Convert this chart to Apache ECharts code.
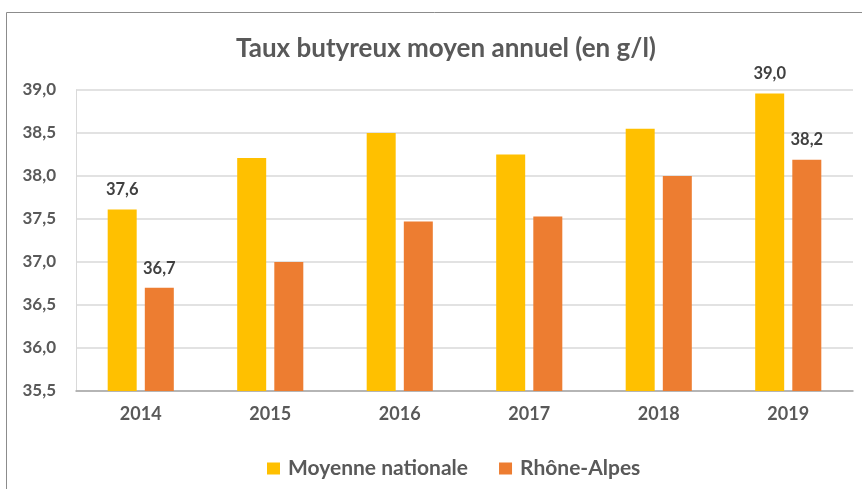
<!DOCTYPE html>
<html><head><meta charset="utf-8">
<script src="https://cdn.jsdelivr.net/npm/echarts@6/dist/echarts.min.js"></script>
<style>html,body{margin:0;padding:0;background:#fff}#c{width:862px;height:489px}</style>
</head><body><div id="c"></div>
<script>
const categories = ['2014','2015','2016','2017','2018','2019'];
const nationale = [37.61, 38.21, 38.50, 38.25, 38.55, 38.96];
const rhoneAlpes = [36.70, 37.00, 37.47, 37.53, 38.00, 38.19];
const labelledIdx = [0, 5];
const yTicks = {min: 35.5, max: 39.0, interval: 0.5};

const fmt = v => v.toFixed(1).replace('.', ',');
const font = 'Lato, "Open Sans", sans-serif';
const mkLabel = {
  show: true, position: 'top', distance: 11,
  fontFamily: font, fontWeight: 'bold', fontSize: 16.5, color: '#404040',
  formatter: p => labelledIdx.includes(p.dataIndex) ? fmt(p.value) : ''
};
const chart = echarts.init(document.getElementById('c'));
chart.setOption({
  animation: false,
  graphic: [{type:'rect', shape:{x:6.5,y:12.5,width:870,height:500}, style:{fill:'none', stroke:'#8c8c8c', lineWidth:1}, silent:true}],
  title: {text: 'Taux butyreux moyen annuel (en g/l)', left: 231, top: 31,
    textStyle: {fontFamily: font, fontWeight: 'bold', fontSize: 26, color: '#595959'}},
  grid: {left: 76, right: 9, top: 90, bottom: 98, containLabel: false},
  legend: {top: 453, left: 262, itemWidth: 13, itemHeight: 12, itemGap: 31,
    icon: 'rect',
    textStyle: {fontFamily: font, fontWeight: 'bold', fontSize: 21, color: '#595959', padding: [0,0,0,3]}},
  xAxis: {type: 'category', data: categories,
    axisLine: {lineStyle: {color: '#a6a6a6', width: 1.5}}, axisTick: {show: false},
    axisLabel: {fontFamily: font, fontWeight: 'bold', fontSize: 18, color: '#595959', margin: 14}},
  yAxis: {type: 'value', min: yTicks.min, max: yTicks.max, interval: yTicks.interval,
    axisLine: {show: true, lineStyle: {color: '#d9d9d9'}},
    splitLine: {lineStyle: {color: '#d9d9d9', width: 1.5}},
    axisLabel: {fontFamily: font, fontWeight: 'bold', fontSize: 17, color: '#595959', margin: 20,
      formatter: v => fmt(v)}},
  series: [
    {name: 'Moyenne nationale', type: 'bar', data: nationale, barWidth: 29, barGap: '28%',
      itemStyle: {color: '#FFC000'}, label: mkLabel},
    {name: 'Rhône-Alpes', type: 'bar', data: rhoneAlpes, barWidth: 29,
      itemStyle: {color: '#ED7D31'}, label: mkLabel}
  ]
});
</script></body></html>
